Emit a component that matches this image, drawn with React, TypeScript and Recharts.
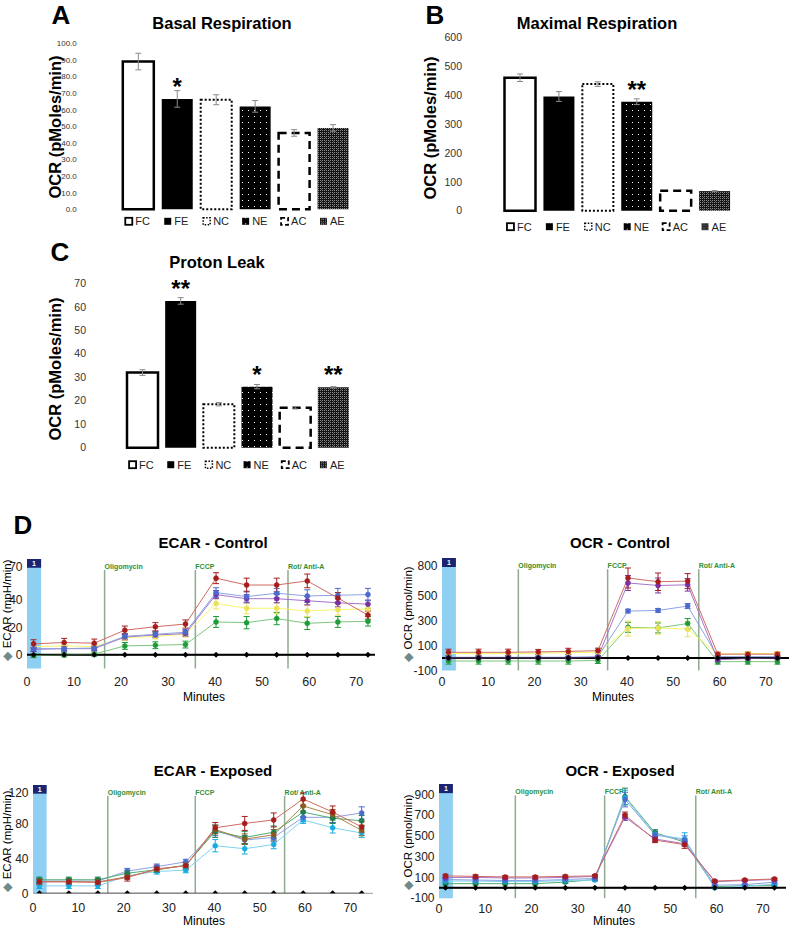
import React from 'react'
import {
  BarChart, Bar, Cell, XAxis, YAxis, ErrorBar, LabelList,
  LineChart, Line, ReferenceLine, ReferenceArea,
} from 'recharts'

const FONT = '"Liberation Sans", Arial, Helvetica, sans-serif'

// ---------- A / B / C bar panels ----------
const groups = ['FC', 'FE', 'NC', 'NE', 'AC', 'AE']

const basalMean = [89, 66.5, 66, 62, 46, 49]
const basalErr = [5, 5, 3, 3.5, 2, 2]
const basalSig = ['', '*', '', '', '', '']
const basalTicks = [0, 10, 20, 30, 40, 50, 60, 70, 80, 90, 100]

const maximalMean = [461, 396, 439, 378, 69, 68]
const maximalErr = [13, 17, 8, 10, 0, 2]
const maximalSig = ['', '', '', '**', '', '']
const maximalTicks = [0, 100, 200, 300, 400, 500, 600]

const leakMean = [32, 62.5, 18.5, 26, 17, 25.7]
const leakErr = [1.2, 1.4, 0.7, 0.9, 0.5, 0.3]
const leakSig = ['', '**', '', '*', '', '**']
const leakTicks = [0, 10, 20, 30, 40, 50, 60, 70]

// ---------- D time course ----------
const minutes = [1.4, 7.9, 14.3, 20.8, 27.3, 33.7, 40.2, 46.7, 53.1, 59.6, 66.1, 72.5]
const minuteTicks = [0, 10, 20, 30, 40, 50, 60, 70]
const injections = [16.5, 35.8, 55.5]
const injectionNames = ['Oligomycin', 'FCCP', 'Rot/ Anti-A']
const background = [0, 0, 0, 0, 0, 0, 0, 0, 0, 0, 0, 0]

const ecarCtlRed = [8, 9, 8.5, 18, 20.5, 22.5, 56, 51, 51, 54, 41.5, 29]
const ecarCtlRedErr = [3, 3, 3, 3, 3, 3, 4, 5, 5, 5, 4, 3]
const ecarCtlBlue = [4.5, 4.5, 5, 13.5, 15, 16.5, 45.5, 42.5, 45, 43, 43.5, 44]
const ecarCtlBlueErr = [2, 2, 2, 2, 2, 2, 3.5, 4, 3.5, 4.5, 5, 4.5]
const ecarCtlPurple = [4, 4.5, 4.5, 13, 14.5, 15.5, 44, 41, 41, 39.5, 38, 37]
const ecarCtlPurpleErr = [1.5, 1.5, 1.5, 2, 2, 2, 3, 3, 3, 3, 3, 3]
const ecarCtlYellow = [6, 6.5, 6, 12.5, 13.5, 15, 37.5, 34, 34, 32, 33, 33.5]
const ecarCtlYellowErr = [2, 2, 2, 2, 2, 2, 4, 4, 4, 4, 4, 4]
const ecarCtlGreen = [-0.5, 0, 0.5, 6.5, 7, 7.5, 24, 23.5, 26.5, 23, 24, 24.5]
const ecarCtlGreenErr = [1.5, 1.5, 1.5, 2.5, 2.5, 2.5, 4, 4.5, 4.5, 4.5, 4, 3.5]

const ocrCtlRed = [45, 45, 45, 48, 52, 58, 640, 610, 615, 30, 30, 30]
const ocrCtlRedErr = [25, 25, 25, 20, 25, 20, 80, 70, 60, 15, 15, 15]
const ocrCtlPurple = [0, 0, 0, 0, 0, 5, 600, 580, 585, -15, -5, 0]
const ocrCtlPurpleErr = [10, 10, 10, 10, 10, 10, 60, 60, 50, 15, 10, 10]
const ocrCtlBlue = [5, 5, 5, 5, 5, 10, 375, 380, 415, 10, 10, 10]
const ocrCtlBlueErr = [8, 8, 8, 8, 8, 8, 15, 15, 20, 10, 10, 10]
const ocrCtlYellow = [35, 35, 35, 38, 42, 45, 235, 240, 230, 30, 35, 35]
const ocrCtlYellowErr = [15, 15, 15, 15, 15, 15, 60, 50, 60, 15, 15, 15]
const ocrCtlGreen = [-25, -25, -25, -25, -25, -20, 245, 240, 275, -30, -30, -30]
const ocrCtlGreenErr = [25, 25, 25, 25, 25, 25, 40, 40, 40, 20, 20, 20]

const ecarExpRed = [13, 13, 12.5, 18, 28, 31.5, 75, 80, 84, 108, 93, 76]
const ecarExpRedErr = [3, 3, 3, 4, 4, 4, 6, 8, 8, 7, 7, 6]
const ecarExpBlue = [14, 14, 14, 25.5, 30.5, 36, 72, 61, 64, 87, 87, 92]
const ecarExpBlueErr = [3, 3, 3, 3, 3, 3, 6, 5, 5, 5, 6, 7]
const ecarExpGreen = [15.5, 15.5, 15.5, 23, 27, 32, 71, 64, 70, 93, 86, 83]
const ecarExpGreenErr = [3, 3, 3, 3, 3, 3, 7, 7, 7, 6, 6, 6]
const ecarExpBrown = [13.5, 13.5, 13, 19, 27, 32, 73, 62, 67, 100, 90, 72]
const ecarExpBrownErr = [3, 3, 3, 3, 3, 3, 5, 6, 6, 6, 6, 6]
const ecarExpCyan = [8.5, 8.5, 8.5, 20, 25, 26.5, 54.5, 51, 56, 84, 75, 69]
const ecarExpCyanErr = [3, 3, 3, 3, 3, 3, 7, 6, 5, 4, 6, 5]

const ocrExpRed = [115, 110, 105, 105, 110, 115, 700, 460, 415, 65, 75, 85]
const ocrExpRedErr = [15, 15, 12, 12, 12, 12, 30, 25, 35, 10, 10, 10]
const ocrExpPurple = [100, 100, 95, 95, 100, 110, 680, 470, 425, 60, 70, 80]
const ocrExpPurpleErr = [12, 12, 12, 12, 12, 12, 30, 25, 25, 10, 10, 10]
const ocrExpBlue = [80, 75, 70, 70, 80, 90, 850, 510, 460, 25, 30, 55]
const ocrExpBlueErr = [12, 12, 12, 12, 12, 12, 70, 35, 40, 10, 10, 10]
const ocrExpGreen = [40, 40, 40, 40, 55, 80, 880, 530, 440, 10, 20, 25]
const ocrExpGreenErr = [12, 12, 12, 12, 12, 12, 80, 30, 30, 10, 10, 10]
const ocrExpCyan = [65, 65, 60, 60, 70, 75, 870, 515, 470, 0, 15, 35]
const ocrExpCyanErr = [12, 12, 12, 12, 12, 12, 70, 30, 60, 10, 10, 10]

// line colour, marker colour
const PAL: Record<string, [string, string]> = {
  red: ['#d06a63', '#a51d1d'],
  blue: ['#8da2e4', '#4a6bcc'],
  purple: ['#a474cc', '#7a2fa3'],
  yellow: ['#f8f56a', '#ece25a'],
  green: ['#7dc77d', '#1f9c3a'],
  teal: ['#4fae72', '#1a7f4a'],
  brown: ['#ad8347', '#8a5b1c'],
  cyan: ['#7dd3ef', '#17ade0'],
  black: ['#000', '#000'],
}

const barStyle: Record<string, any> = {
  FC: { fill: '#fff', stroke: '#000', strokeWidth: 2.5 },
  FE: { fill: '#000' },
  NC: { fill: '#fff', stroke: '#000', strokeWidth: 2, strokeDasharray: '2 2' },
  NE: { fill: 'url(#pDots)' },
  AC: { fill: '#fff', stroke: '#000', strokeWidth: 2.5, strokeDasharray: '8 5' },
  AE: { fill: 'url(#pCheck)' },
}
const iconStyle: Record<string, any> = {
  FC: { fill: '#fff', stroke: '#000', strokeWidth: 1.8 },
  FE: { fill: '#000' },
  NC: { fill: '#fff', stroke: '#000', strokeWidth: 1.5, strokeDasharray: '1.5 1.5' },
  NE: { fill: 'url(#pDots)' },
  AC: { fill: '#fff', stroke: '#000', strokeWidth: 1.8, strokeDasharray: '4 2.5' },
  AE: { fill: 'url(#pCheck)' },
}

function Txt({ x, y, size, bold, rotate, color, children }: any) {
  return (
    <div
      style={{
        position: 'absolute', left: x, top: y,
        transform: `translate(-50%, -50%)${rotate ? ' rotate(-90deg)' : ''}`,
        fontSize: size, fontWeight: bold ? 700 : 400, fontFamily: FONT,
        whiteSpace: 'nowrap', lineHeight: 1, color: color || '#000',
      }}
    >
      {children}
    </div>
  )
}

const LegendTick = ({ x, y, payload, dy }: any) => {
  const s = iconStyle[payload.value]
  return (
    <g transform={`translate(${x},${y + dy})`}>
      <rect x={-13} y={-3.5} width={7} height={7} {...s} />
      <text x={-3} y={0} dy="0.35em" fontSize={11} fontFamily={FONT} fill="#222">
        {payload.value}
      </text>
    </g>
  )
}

const StarLabel = (props: any) => {
  const { x, y, width, value } = props
  if (!value) return null
  return (
    <text x={Number(x) + Number(width) / 2} y={Number(y) - 4} textAnchor="middle"
      fontSize={24} fontWeight="bold" fontFamily={FONT} fill="#000">
      {value}
    </text>
  )
}

function BarPanel({ left, top, width, height, plot, means, errs, sigs, ticks, fmt, tickGap, tickFont, legendDy }: any) {
  const yW = 50
  const xH = 30
  const data = groups.map((g, i) => ({ name: g, mean: means[i], err: errs[i], sig: sigs[i] }))
  const margin = {
    left: plot.l - left - yW,
    top: plot.t - top,
    right: left + width - plot.r,
    bottom: top + height - plot.b - xH,
  }
  return (
    <div style={{ position: 'absolute', left, top }}>
      <BarChart width={width} height={height} data={data} margin={margin} barSize={31}>
        <XAxis dataKey="name" height={xH} axisLine={false} tickLine={false} tickSize={0} tickMargin={0}
          interval={0} tick={(p: any) => <LegendTick {...p} dy={legendDy} />} />
        <YAxis type="number" domain={[ticks[0], ticks[ticks.length - 1]]} ticks={ticks} width={yW}
          axisLine={false} tickLine={false} tickSize={0} tickMargin={tickGap} tickFormatter={fmt}
          tick={{ fontSize: tickFont, fill: '#333', fontFamily: FONT }} />
        <Bar dataKey="mean" isAnimationActive={false}>
          {data.map((d) => <Cell key={d.name} {...barStyle[d.name]} />)}
          <ErrorBar dataKey="err" width={3} stroke="#8a8a8a" strokeWidth={1} direction="y" isAnimationActive={false} />
          <LabelList dataKey="sig" content={StarLabel} />
        </Bar>
      </BarChart>
    </div>
  )
}

const Diamond = (props: any) => {
  const { cx, cy, index } = props
  if (cx == null || cy == null) return <g key={index} />
  return <path key={index} d={`M${cx},${cy - 3}L${cx + 3},${cy}L${cx},${cy + 3}L${cx - 3},${cy}Z`} fill="#000" />
}

const injLabel = (text: string) => (props: any) => {
  const vb = props.viewBox || {}
  return (
    <text x={vb.x} y={vb.y - 1} fontSize={7} fontWeight="bold" fill="#2f8f35" fontFamily={FONT}>
      {text}
    </text>
  )
}

function LinePanel({ box, xMax, yMin, yMax, yTicks, series, zeroColor, zeroWidth, xTickGap }: any) {
  const yW = 40
  const xH = 30
  const width = Math.min(box.w + yW, 789 - (box.x - yW))
  const height = box.h + xH
  const rows = minutes.map((t, i) => {
    const r: any = { t }
    series.forEach((s: any) => {
      r[s.key] = s.mean[i]
      r[s.key + 'E'] = s.err ? s.err[i] : 0
    })
    return r
  })
  const span = yMax - yMin
  return (
    <div style={{ position: 'absolute', left: box.x - yW, top: box.y }}>
      <LineChart width={width} height={height} data={rows}
        margin={{ top: 0, right: width - yW - box.w, left: 0, bottom: 0 }}>
        <XAxis type="number" dataKey="t" domain={[0, xMax]} ticks={minuteTicks} allowDataOverflow
          height={xH} axisLine={false} tickLine={false} tickSize={0} tickMargin={xTickGap}
          tick={{ fontSize: 12.5, fill: '#222', fontFamily: FONT }} />
        <YAxis type="number" domain={[yMin, yMax]} ticks={yTicks} allowDataOverflow width={yW}
          axisLine={false} tickLine={false} tickSize={0} tickMargin={4.5}
          tick={{ fontSize: 12, fill: '#222', fontFamily: FONT }} />
        <ReferenceArea x1={0} x2={3} y1={yMin} y2={yMax} fill="#8ecff2" fillOpacity={1} stroke="none" />
        <ReferenceArea x1={0} x2={3} y1={yMax - span * 0.08} y2={yMax} fill="#1b2470" fillOpacity={1} stroke="none"
          label={{ value: '1', fill: '#fff', fontSize: 7, fontWeight: 'bold', position: 'center' }} />
        {injections.map((x, i) => (
          <ReferenceLine key={x} segment={[{ x, y: yMin }, { x, y: yMax - span * 0.1 }]}
            stroke="#8fab8f" strokeWidth={1.5} label={injLabel(injectionNames[i])} />
        ))}
        <ReferenceLine y={0} stroke={zeroColor} strokeWidth={zeroWidth} />
        {series.map((s: any) => (
          <Line key={s.key} dataKey={s.key} stroke={PAL[s.color][0]} strokeWidth={1}
            dot={s.color === 'black' ? Diamond : { r: 2.5, fill: PAL[s.color][1], stroke: PAL[s.color][1], strokeWidth: 0.5 }}
            activeDot={false} isAnimationActive={false}>
            {s.err && (
              <ErrorBar dataKey={s.key + 'E'} width={3} stroke={PAL[s.color][1]} strokeWidth={1}
                direction="y" isAnimationActive={false} />
            )}
          </Line>
        ))}
      </LineChart>
    </div>
  )
}

export default function App() {
  const fmt1 = (v: number) => v.toFixed(1)
  return (
    <div style={{ position: 'absolute', left: 0, top: 0, width: 789, height: 930, background: '#fff', overflow: 'hidden', fontFamily: FONT }}>
      <svg width={0} height={0} style={{ position: 'absolute' }}>
        <defs>
          <pattern id="pDots" width={6} height={6} patternUnits="userSpaceOnUse">
            <rect width={6} height={6} fill="#000" />
            <rect x={2} y={2} width={1} height={1} fill="#fff" />
          </pattern>
          <pattern id="pCheck" width={4} height={4} patternUnits="userSpaceOnUse">
            <rect width={4} height={4} fill="#141414" />
            <rect x={0} y={0} width={1} height={1} fill="#8a8a8a" />
            <rect x={2} y={0} width={1} height={1} fill="#8a8a8a" />
            <rect x={0} y={2} width={1} height={1} fill="#8a8a8a" />
            <rect x={2} y={2} width={1} height={1} fill="#8a8a8a" />
            <rect x={1} y={1} width={1} height={1} fill="#555" />
          </pattern>
        </defs>
      </svg>

      {/* A */}
      <Txt x={61} y={15} size={26} bold>A</Txt>
      <Txt x={222} y={23} size={16.5} bold>Basal Respiration</Txt>
      <Txt x={55} y={127} size={16.5} bold rotate>OCR (pMoles/min)</Txt>
      <BarPanel left={0} top={0} width={370} height={245}
        plot={{ l: 118.8, t: 43.3, r: 352.5, b: 209.3 }}
        means={basalMean} errs={basalErr} sigs={basalSig} ticks={basalTicks} fmt={fmt1}
        tickGap={42} tickFont={8} legendDy={12} />

      {/* B */}
      <Txt x={435} y={15} size={26} bold>B</Txt>
      <Txt x={597} y={23} size={16.5} bold>Maximal Respiration</Txt>
      <Txt x={430} y={128} size={16.5} bold rotate>OCR (pMoles/min)</Txt>
      <BarPanel left={390} top={0} width={380} height={245}
        plot={{ l: 500.5, t: 37.7, r: 734, b: 210.7 }}
        means={maximalMean} errs={maximalErr} sigs={maximalSig} ticks={maximalTicks}
        tickGap={38.5} tickFont={10.5} legendDy={16} />

      {/* C */}
      <Txt x={60} y={252} size={26} bold>C</Txt>
      <Txt x={217} y={262} size={16.5} bold>Proton Leak</Txt>
      <Txt x={55} y={369} size={16.5} bold rotate>OCR (pMoles/min)</Txt>
      <BarPanel left={0} top={240} width={370} height={245}
        plot={{ l: 123, t: 283.3, r: 352, b: 447.7 }}
        means={leakMean} errs={leakErr} sigs={leakSig} ticks={leakTicks}
        tickGap={37} tickFont={10.5} legendDy={17} />

      {/* D */}
      <Txt x={23} y={525} size={26} bold>D</Txt>

      <Txt x={213} y={542} size={15} bold>ECAR - Control</Txt>
      <Txt x={8} y={610} size={11.5} rotate><span style={{ color: '#6f8a8a' }}>◆</span> ECAR (mpH/min)</Txt>
      <Txt x={204} y={697} size={12}>Minutes</Txt>
      <LinePanel box={{ x: 27, y: 558.5, w: 348, h: 109.5 }} xMax={74} yMin={-10} yMax={70}
        yTicks={[-10, 0, 10, 20, 30, 40, 50, 60, 70]} zeroColor="#000" zeroWidth={2} xTickGap={9}
        series={[
          { key: 'green', color: 'green', mean: ecarCtlGreen, err: ecarCtlGreenErr },
          { key: 'yellow', color: 'yellow', mean: ecarCtlYellow, err: ecarCtlYellowErr },
          { key: 'purple', color: 'purple', mean: ecarCtlPurple, err: ecarCtlPurpleErr },
          { key: 'blue', color: 'blue', mean: ecarCtlBlue, err: ecarCtlBlueErr },
          { key: 'red', color: 'red', mean: ecarCtlRed, err: ecarCtlRedErr },
          { key: 'bg', color: 'black', mean: background },
        ]} />

      <Txt x={620} y={542} size={15} bold>OCR - Control</Txt>
      <Txt x={409} y={614} size={11.5} rotate><span style={{ color: '#6f8a8a' }}>◆</span> OCR (pmol/min)</Txt>
      <Txt x={613} y={697} size={12}>Minutes</Txt>
      <LinePanel box={{ x: 442, y: 558.3, w: 347, h: 112.4 }} xMax={75} yMin={-100} yMax={800}
        yTicks={[-100, 0, 100, 200, 300, 400, 500, 600, 700, 800]} zeroColor="#000" zeroWidth={2} xTickGap={7}
        series={[
          { key: 'green', color: 'green', mean: ocrCtlGreen, err: ocrCtlGreenErr },
          { key: 'yellow', color: 'yellow', mean: ocrCtlYellow, err: ocrCtlYellowErr },
          { key: 'blue', color: 'blue', mean: ocrCtlBlue, err: ocrCtlBlueErr },
          { key: 'purple', color: 'purple', mean: ocrCtlPurple, err: ocrCtlPurpleErr },
          { key: 'red', color: 'red', mean: ocrCtlRed, err: ocrCtlRedErr },
          { key: 'bg', color: 'black', mean: background },
        ]} />

      <Txt x={213} y={770} size={15} bold>ECAR - Exposed</Txt>
      <Txt x={8} y={841} size={11.5} rotate><span style={{ color: '#6f8a8a' }}>◆</span> ECAR (mpH/min)</Txt>
      <Txt x={204} y={921} size={12}>Minutes</Txt>
      <LinePanel box={{ x: 33, y: 785, w: 340, h: 108.3 }} xMax={75} yMin={0} yMax={124}
        yTicks={[0, 20, 40, 60, 80, 100, 120]} zeroColor="#9a9a9a" zeroWidth={1} xTickGap={10}
        series={[
          { key: 'cyan', color: 'cyan', mean: ecarExpCyan, err: ecarExpCyanErr },
          { key: 'blue', color: 'blue', mean: ecarExpBlue, err: ecarExpBlueErr },
          { key: 'teal', color: 'teal', mean: ecarExpGreen, err: ecarExpGreenErr },
          { key: 'brown', color: 'brown', mean: ecarExpBrown, err: ecarExpBrownErr },
          { key: 'red', color: 'red', mean: ecarExpRed, err: ecarExpRedErr },
          { key: 'bg', color: 'black', mean: background },
        ]} />

      <Txt x={620} y={770} size={15} bold>OCR - Exposed</Txt>
      <Txt x={409} y={842} size={11.5} rotate><span style={{ color: '#6f8a8a' }}>◆</span> OCR (pmol/min)</Txt>
      <Txt x={614} y={921} size={12}>Minutes</Txt>
      <LinePanel box={{ x: 439.3, y: 783.5, w: 347, h: 114.2 }} xMax={75} yMin={-100} yMax={1000}
        yTicks={[-100, 100, 300, 500, 700, 900]} zeroColor="#000" zeroWidth={2} xTickGap={5.5}
        series={[
          { key: 'green', color: 'teal', mean: ocrExpGreen, err: ocrExpGreenErr },
          { key: 'cyan', color: 'cyan', mean: ocrExpCyan, err: ocrExpCyanErr },
          { key: 'blue', color: 'blue', mean: ocrExpBlue, err: ocrExpBlueErr },
          { key: 'purple', color: 'purple', mean: ocrExpPurple, err: ocrExpPurpleErr },
          { key: 'red', color: 'red', mean: ocrExpRed, err: ocrExpRedErr },
          { key: 'bg', color: 'black', mean: background },
        ]} />
    </div>
  )
}
